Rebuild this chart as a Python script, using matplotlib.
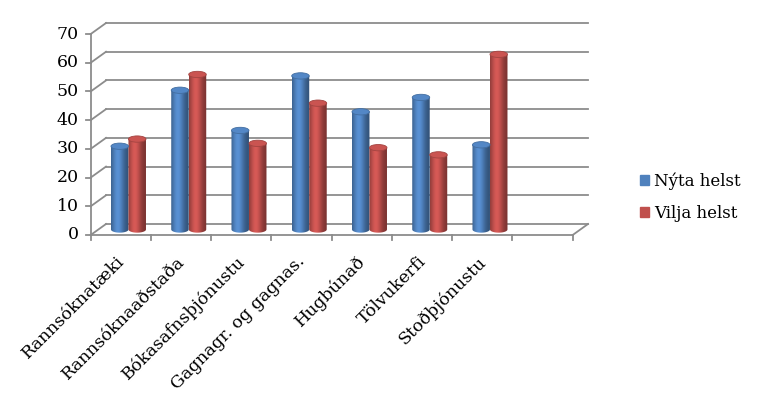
import numpy as np
import matplotlib
matplotlib.use("Agg")
import matplotlib.pyplot as plt
from matplotlib.patches import Ellipse, PathPatch, Patch
from matplotlib.path import Path

plt.rcParams.update({"font.family": "DejaVu Serif", "font.size": 12})

categories = ["Rannsóknatæki", "Rannsóknaaðstaða", "Bókasafnsþjónustu",
              "Gagnagr. og gagnas.", "Hugbúnað", "Tölvukerfi", "Stoðþjónustu", ""]
nyta = [29, 48.5, 34.5, 53.5, 41, 46, 29.5]
vilja = [31.5, 54, 30, 44, 28.5, 26, 61]
series = [("Nýta helst", nyta, "#4F81BD"), ("Vilja helst", vilja, "#C0504D")]
yticks = [0, 10, 20, 30, 40, 50, 60, 70]

# pixel geometry of the pseudo-3D frame
W, H = 757, 395
px_x = 60.25          # px per category
px_y = 2.871          # px per unit
x0_px, y0_px = 90.7, 235.0
dx, dy = 15.3 / px_x, 11.0 / px_y   # depth offset in data units
n = len(categories)
grid = "#8C8C8C"

fig = plt.figure(figsize=(W / 100, H / 100), dpi=100)
ax = fig.add_axes([0, 0, 1, 1])
ax.axis("off")

# back wall gridlines and side wall diagonals
for v in yticks:
    ax.plot([dx, n + dx], [v + dy, v + dy], color=grid, lw=1.3, zorder=1)
    ax.plot([0, dx], [v, v + dy], color=grid, lw=1.3, zorder=1)
    ax.plot([-0.08, 0], [v, v], color=grid, lw=1.3, zorder=1)
    ax.text(-0.2, v, str(v), ha="right", va="center", fontsize=12.5)
ax.plot([0, 0], [0, 70], color=grid, lw=1.3, zorder=1)
# floor
ax.plot([0, n], [0, 0], color=grid, lw=1.3, zorder=1)
ax.plot([n, n + dx], [0, dy], color=grid, lw=1.3, zorder=1)
for i in range(n + 1):
    ax.plot([i, i], [0, -1.8], color=grid, lw=1.3, zorder=1)

# cylinders
bw = 17.5 / px_x
ry = 1.1
shade = np.linspace(0, 1, 60)
prof = 0.62 + 0.5 * np.exp(-((shade - 0.38) / 0.35) ** 2)
for k, (name, vals, col) in enumerate(series):
    rgb = np.array(matplotlib.colors.to_rgb(col))
    img = np.clip(rgb[None, :] * prof[:, None], 0, 1)
    for i, v in enumerate(vals):
        xc = i + 0.5 + dx / 2 + (k - 0.5) * bw
        yb = dy / 2
        yt = v + dy / 2
        xl, xr = xc - bw / 2, xc + bw / 2
        th = np.linspace(np.pi, 2 * np.pi, 30)
        pts = [(xl, yt), (xl, yb)] + list(zip(xc + bw / 2 * np.cos(th), yb + ry * np.sin(th))) + [(xr, yt), (xl, yt)]
        body = PathPatch(Path(pts), facecolor="none", edgecolor="none", zorder=3)
        ax.add_patch(body)
        im = ax.imshow(img[None, :, :], extent=[xl, xr, yb - ry, yt], aspect="auto",
                       zorder=3, interpolation="bilinear")
        im.set_clip_path(body)
        top = Ellipse((xc, yt), bw, 2 * ry, facecolor=np.clip(rgb * 1.05, 0, 1),
                      edgecolor=rgb * 0.85, lw=0.6, zorder=4)
        ax.add_patch(top)

# category labels
for i, c in enumerate(categories):
    ax.text(i + 0.42, -6.3, c, rotation=45, rotation_mode="anchor",
            ha="right", va="top", fontsize=12.5)

ax.set_xlim(-x0_px / px_x, (W - x0_px) / px_x)
ax.set_ylim(-(H - y0_px) / px_y, y0_px / px_y)

handles = [Patch(color=c) for _, _, c in series]
fig.legend(handles, [s[0] for s in series], loc="center left",
           bbox_to_anchor=(625 / W, 1 - 197 / H), frameon=False,
           handlelength=0.55, handleheight=0.55, handletextpad=0.3,
           labelspacing=0.9, fontsize=12)

fig.savefig("out.png", dpi=100)
